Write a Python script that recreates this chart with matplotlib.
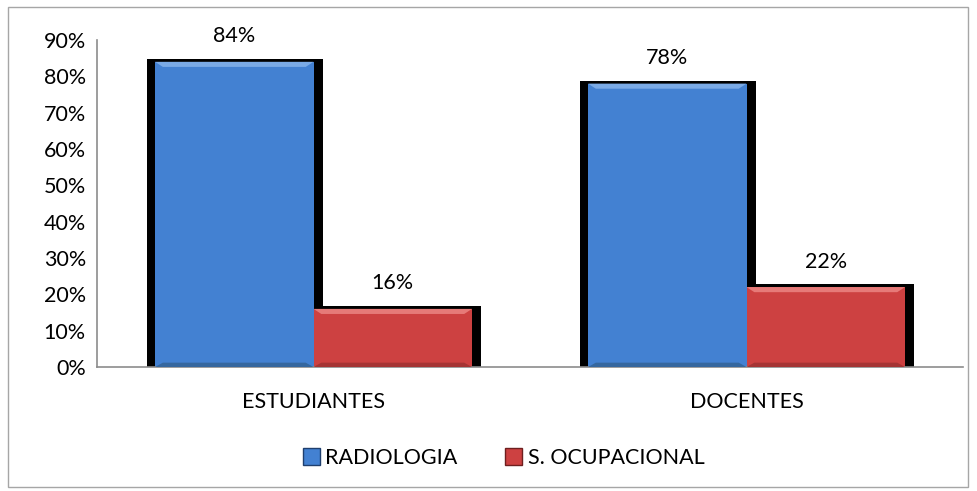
import numpy as np
import matplotlib.pyplot as plt
from matplotlib.patches import Patch, Rectangle, Polygon

# donnees
categorias = ['ESTUDIANTES', 'DOCENTES']
series = ['RADIOLOGIA', 'S. OCUPACIONAL']
radiologia = [0.84, 0.78]
ocupacional = [0.16, 0.22]
ticks_y = [0, 0.1, 0.2, 0.3, 0.4, 0.5, 0.6, 0.7, 0.8, 0.9]

colores = ['#4381d2', '#cd4141']
claros = ['#7aaae6', '#e67a78']
oscuros = ['#35679f', '#a53434']

plt.rcParams['font.family'] = ['Lato', 'DejaVu Sans']
plt.rcParams['font.size'] = 15.5

fig = plt.figure(figsize=(9.78, 4.91), dpi=100)
fig.patches.append(Rectangle((0.008, 0.008), 0.982, 0.978, transform=fig.transFigure,
                             fill=False, edgecolor='#a6a6a6', linewidth=1.0))
ax = fig.add_axes([0.0992, 0.2525, 0.8855, 0.666])

x = np.arange(len(categorias))
w = 0.366
# ombre noire derriere les barres (px -> unites de donnees)
dx_g = 8 / 866 * 2
dx_d = 9 / 866 * 2
dy = 0.008

valores = [radiologia, ocupacional]
for i, vals in enumerate(valores):
    pos = x - w / 2 + i * w
    ax.bar(pos - dx_g / 2 + dx_d / 2, np.array(vals) + dy, w + dx_g + dx_d,
           color='black', zorder=1)

for i, vals in enumerate(valores):
    pos = x - w / 2 + i * w
    bars = ax.bar(pos, vals, w, color=colores[i], zorder=2)
    for b, v in zip(bars, vals):
        x0 = b.get_x()
        x1 = x0 + b.get_width()
        # petit biseau clair en haut, plus sombre en bas
        e = 0.018
        ax.add_patch(Polygon([(x0, v), (x1, v), (x1 - e, v - 0.014), (x0 + e, v - 0.014)],
                             closed=True, color=claros[i], zorder=3, linewidth=0))
        ax.add_patch(Polygon([(x0, 0), (x1, 0), (x1 - e, 0.012), (x0 + e, 0.012)],
                             closed=True, color=oscuros[i], zorder=3, linewidth=0))
        ax.annotate(f'{v * 100:.0f}%', (b.get_x() + b.get_width() / 2, v + dy),
                    xytext=(0, 9), textcoords='offset points',
                    ha='center', va='bottom')

ax.set_xlim(-0.5, 1.5)
ax.set_ylim(0, 0.9)
ax.set_yticks(ticks_y)
ax.set_yticklabels([f'{t * 100:.0f}%' for t in ticks_y])
ax.set_xticks(x)
ax.set_xticklabels(categorias)
ax.tick_params(length=0, pad=8)
ax.tick_params(axis='x', pad=18)
for s in ['top', 'right']:
    ax.spines[s].set_visible(False)
for s in ['left', 'bottom']:
    ax.spines[s].set_color('#8c8c8c')
    ax.spines[s].set_linewidth(1.2)

handles = [Patch(facecolor=colores[0], edgecolor='#1f3f6e'),
           Patch(facecolor=colores[1], edgecolor='#6e1f1f')]
fig.legend(handles, series, loc='center', bbox_to_anchor=(0.515, 0.067), ncol=2,
           frameon=False, handlelength=0.8, handleheight=0.8, handletextpad=0.25,
           columnspacing=2.2)

fig.savefig('out.png', dpi=100)
